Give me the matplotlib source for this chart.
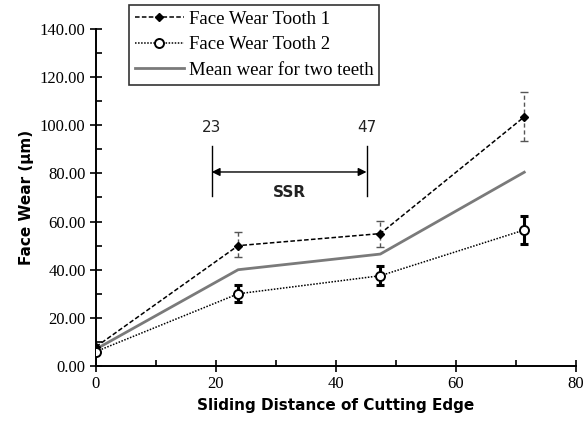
import matplotlib
matplotlib.use("Agg")
import matplotlib.pyplot as plt
from matplotlib.ticker import MultipleLocator, FormatStrFormatter

# data
dist = [0, 23.7, 47.4, 71.4]
tooth1 = [8.0, 50.0, 55.0, 103.5]
tooth1_lo = [0.0, 4.8, 5.7, 10.1]
tooth1_hi = [0.0, 5.5, 5.3, 10.5]
tooth2 = [6.0, 30.0, 37.5, 56.5]
tooth2_lo = [0.0, 3.4, 4.0, 5.7]
tooth2_hi = [0.0, 3.5, 4.2, 5.9]
mean_wear = [7.0, 40.0, 46.5, 80.5]
ssr_edges = [19.3, 45.1]
ssr_labels = ["23", "47"]

fig = plt.figure(figsize=(5.87, 4.24), dpi=100)
ax = fig.add_axes([0.1635, 0.1368, 0.8175, 0.7948])

serif = "Liberation Serif"

# tooth 1: dashed line, black diamonds, grey dashed error bars
l1, = ax.plot(dist, tooth1, ls=(0, (3, 1.5)), color="black", lw=1.1,
              marker="D", ms=4.5, mfc="black", mec="black", zorder=4)
eb1 = ax.errorbar(dist[1:], tooth1[1:], yerr=[tooth1_lo[1:], tooth1_hi[1:]],
                  fmt="none", ecolor="#555555", elinewidth=1, capsize=3, capthick=1, zorder=3)
eb1[2][0].set_linestyle((0, (3, 2)))

# tooth 2: dotted line, open circles, bold black error bars
l2, = ax.plot(dist, tooth2, ls=(0, (1, 1)), color="black", lw=1.1,
              marker="o", ms=6.5, mfc="white", mec="black", mew=1.4, zorder=5)
ax.errorbar(dist[1:], tooth2[1:], yerr=[tooth2_lo[1:], tooth2_hi[1:]],
            fmt="none", ecolor="black", elinewidth=2.2, capsize=3, capthick=2.2, zorder=4)

l3, = ax.plot(dist, mean_wear, color="#7a7a7a", lw=2, zorder=3)

# SSR annotation
for xe, lab in zip(ssr_edges, ssr_labels):
    ax.plot([xe, xe], [70.7, 91.3], color="black", lw=1)
    ax.text(xe, 96, lab, ha="center", va="bottom", fontsize=11, color="#222222")
ax.annotate("", xy=(ssr_edges[0], 80.6), xytext=(ssr_edges[1], 80.6),
            arrowprops=dict(arrowstyle="<|-|>", color="black", lw=1, mutation_scale=12,
                            shrinkA=0, shrinkB=0))
ax.text(sum(ssr_edges) / 2, 72, "SSR", ha="center", va="center",
        fontsize=11, fontweight="bold", color="#222222")

ax.set_xlim(0, 80)
ax.set_ylim(0, 140)
ax.xaxis.set_major_locator(MultipleLocator(20))
ax.xaxis.set_minor_locator(MultipleLocator(10))
ax.yaxis.set_major_locator(MultipleLocator(20))
ax.yaxis.set_minor_locator(MultipleLocator(10))
ax.yaxis.set_major_formatter(FormatStrFormatter("%.2f"))
ax.tick_params(which="major", direction="inout", length=8, width=1.2)
ax.tick_params(which="minor", direction="in", length=4, width=1.2)
ax.tick_params(labelsize=12)
for lab in ax.get_xticklabels() + ax.get_yticklabels():
    lab.set_fontfamily(serif)

for s in ["top", "right"]:
    ax.spines[s].set_visible(False)
for s in ["left", "bottom"]:
    ax.spines[s].set_linewidth(1.4)

ax.set_xlabel("Sliding Distance of Cutting Edge", fontsize=11, fontweight="bold")
ax.set_ylabel("Face Wear (µm)", fontsize=11, fontweight="bold")

leg = fig.legend([l1, l2, l3],
                 ["Face Wear Tooth 1", "Face Wear Tooth 2", "Mean wear for two teeth"],
                 loc="upper left", bbox_to_anchor=(0.22, 0.988), borderaxespad=0,
                 fancybox=False, edgecolor="black", prop={"family": serif, "size": 13.5},
                 handlelength=2.6, borderpad=0.3, labelspacing=0.45, handletextpad=0.3)
leg.get_frame().set_linewidth(1.2)

fig.savefig("out.png", dpi=100)
